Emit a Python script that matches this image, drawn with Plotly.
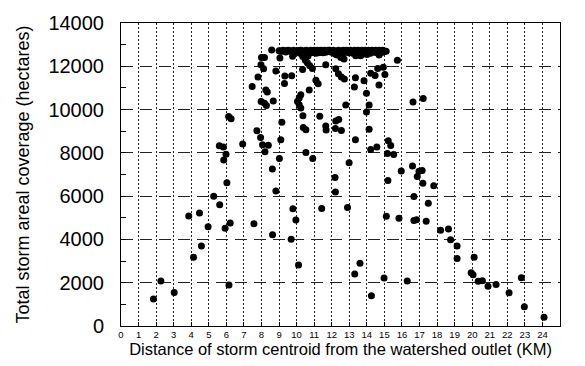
import plotly.graph_objects as go

# Storm centroid distance from watershed outlet (km)
distance_km = [
    # near the outlet
    1.85, 2.27, 3.03, 3.86, 4.47, 4.13, 4.58, 4.96, 5.28, 5.62, 5.93, 6.22, 6.15,
    7.57, 8.63, 8.82, 8.62, 6.03, 5.85, 5.98, 5.60, 5.83, 6.93, 6.13, 6.27, 7.74,
    7.95, 8.06, 8.39, 8.20, 9.10, 9.02,
    # 7.5 - 10 km, upper part
    8.58, 8.00, 8.17, 7.97, 8.12, 8.82, 7.80, 7.47, 8.25, 8.33, 8.67, 7.98, 8.17,
    8.28, 9.05, 9.77, 9.33, 9.72, 9.31, 9.16,
    # 10 - 13 km
    10.05, 10.15, 10.24, 10.15, 10.24, 10.34, 10.72, 11.10, 11.23, 10.36, 11.32,
    10.38, 10.53, 11.66, 11.68, 12.23, 12.40, 12.21, 12.55, 12.80, 10.53, 10.92,
    9.79, 9.96, 9.69, 10.11, 11.43, 12.90, 12.19, 12.21, 12.99,
    # 13 - 16 km
    13.35, 13.29, 13.84, 13.98, 14.13, 13.98, 14.13, 13.35, 14.22, 14.47, 14.62,
    14.94, 15.03, 14.69, 15.74, 15.10, 14.22, 14.57, 15.22, 15.36, 15.17, 15.53,
    15.20, 15.96, 13.31, 13.61, 14.26, 14.98, 15.11, 15.83,
    # beyond 16 km
    16.63, 17.21, 16.60, 16.97, 17.15, 16.87, 17.19, 17.81, 16.68, 17.50, 16.68,
    16.83, 17.38, 18.20, 18.65, 18.77, 19.14, 19.14, 16.30, 19.94, 20.05, 20.11,
    20.34, 20.58, 20.90, 21.36, 22.10, 22.80, 22.97, 24.09,
    # storms just below full coverage
    10.35, 10.50, 10.62, 10.75, 10.90, 11.66, 12.23, 12.52, 12.70, 12.23, 12.38,
    12.55, 12.72, 13.37, 13.65, 14.00, 14.70,
    # storms covering the whole watershed
    9.00, 9.15, 9.30, 9.45, 9.60, 9.75, 9.90, 10.00, 10.10, 10.20, 10.30, 10.35,
    10.45, 10.50, 10.60, 10.65, 10.75, 10.85, 10.95, 11.05, 11.15, 11.25, 11.35,
    11.45, 11.55, 11.65, 11.75, 11.85, 11.95, 12.05, 12.15, 12.20, 12.30, 12.35,
    12.45, 12.55, 12.60, 12.70, 12.80, 12.90, 13.00, 13.10, 13.20, 13.25, 13.35,
    13.45, 13.55, 13.65, 13.75, 13.85, 13.95, 14.05, 14.15, 14.25, 14.35, 14.45,
    14.55, 14.65, 14.75, 14.85, 14.95,
    9.08, 9.22, 9.38, 9.52, 9.68, 9.82, 10.05, 10.25, 10.40, 10.55, 10.70, 10.80,
    10.90, 11.00, 11.10, 11.20, 11.30, 11.40, 11.50, 11.60, 11.70, 11.80, 11.90,
    12.00, 12.10, 12.25, 12.40, 12.50, 12.65, 12.75, 12.85, 12.95, 13.05, 13.15,
    13.30, 13.40, 13.50, 13.60, 13.70, 13.80, 13.90, 14.00, 14.10, 14.20, 14.30,
    14.40, 14.50, 14.60, 14.70, 14.80, 14.90, 15.02,
]

# Total storm areal coverage (hectares)
coverage_ha = [
    1250, 2080, 1550, 5080, 5220, 3180, 3700, 4590, 5990, 5600, 4520, 4760, 1890,
    4730, 4220, 6240, 7250, 6620, 7670, 7930, 8330, 8265, 8415, 9680, 9580, 9020,
    8710, 8380, 8350, 8050, 8600, 7740,
    12750, 12410, 12410, 12070, 11890, 11780, 11510, 11070, 10905, 10810, 10400,
    10370, 10290, 10190, 12385, 12460, 11550, 11560, 11210, 9410,
    10375, 10530, 10680, 10225, 10075, 11855, 10905, 11360, 11190, 9715, 9690,
    9170, 9065, 9245, 9060, 9470, 9540, 9125, 9030, 10210, 8020, 7740,
    5420, 4895, 4010, 2820, 5430, 5480, 6860, 6190, 7540,
    11465, 11045, 11335, 10755, 10210, 9890, 9095, 8600, 11680, 11570, 11900,
    11960, 11620, 11130, 12275, 12700, 8150, 8265, 8565, 8340, 7965, 7920,
    6720, 7160, 2400, 2895, 1400, 2215, 5075, 4980,
    10350, 10515, 7390, 7145, 7190, 6910, 6600, 6485, 5985, 5670, 4880,
    4910, 4835, 4420, 4480, 3985, 3695, 3120, 2080, 2460, 2370, 3180,
    2070, 2095, 1840, 1915, 1540, 2230, 890, 410,
    12450, 12280, 12150, 12030, 11900, 12070, 12560, 12410, 12340, 11890, 11660,
    11510, 11410, 12490, 12490, 12540, 12520,
    12720, 12700, 12730, 12690, 12720, 12680, 12710, 12650, 12730, 12600, 12700,
    12550, 12720, 12640, 12690, 12480, 12700, 12620, 12720, 12660, 12700, 12630,
    12720, 12680, 12710, 12650, 12700, 12730, 12670, 12710, 12600, 12690, 12520,
    12720, 12640, 12700, 12450, 12720, 12660, 12700, 12730, 12680, 12600, 12710,
    12680, 12730, 12650, 12700, 12720, 12660, 12700, 12620, 12710, 12680, 12720,
    12650, 12700, 12600, 12690, 12640, 12700,
    12700, 12740, 12660, 12740, 12690, 12740, 12700, 12740, 12660, 12740, 12610,
    12740, 12680, 12740, 12600, 12740, 12660, 12740, 12620, 12740, 12690, 12740,
    12740, 12650, 12740, 12680, 12740, 12610, 12740, 12680, 12740, 12620, 12740,
    12700, 12740, 12660, 12740, 12600, 12740, 12680, 12740, 12650, 12740, 12600,
    12740, 12670, 12740, 12620, 12740, 12660, 12740, 12700,
]

x_ticks = list(range(0, 25))
y_ticks = [0, 2000, 4000, 6000, 8000, 10000, 12000, 14000]

FONT = "Liberation Sans, Arial, Helvetica, sans-serif"

fig = go.Figure(
    go.Scatter(
        x=distance_km,
        y=coverage_ha,
        mode="markers",
        marker=dict(color="black", size=7, line=dict(width=0)),
        showlegend=False,
    )
)

fig.update_layout(
    width=585,
    height=366,
    margin=dict(l=121, r=25, t=17, b=40),
    paper_bgcolor="white",
    plot_bgcolor="white",
    font=dict(family=FONT, color="black"),
)

fig.update_xaxes(
    range=[0, 25],
    tickvals=x_ticks,
    ticktext=[str(v) for v in x_ticks],
    tickfont=dict(size=9.5),
    ticks="inside",
    ticklen=4,
    tickcolor="black",
    showgrid=True,
    gridcolor="#222",
    gridwidth=1,
    griddash="2px,2px",
    zeroline=False,
    showline=True,
    linecolor="black",
    linewidth=1,
    mirror=True,
    title=dict(
        text="Distance of storm centroid from the watershed outlet (KM)",
        font=dict(size=16.5),
        standoff=2,
    ),
)

fig.update_yaxes(
    range=[0, 14000],
    tickvals=y_ticks,
    ticktext=[str(v) for v in y_ticks],
    tickfont=dict(size=20),
    ticks="inside",
    ticklen=5,
    tickcolor="black",
    ticklabelstandoff=12,
    minor=dict(dtick=1000, ticks="inside", ticklen=5, tickcolor="black", showgrid=False),
    showgrid=True,
    gridcolor="#222",
    gridwidth=1,
    griddash="12px,7px",
    zeroline=False,
    showline=True,
    linecolor="black",
    linewidth=1,
    mirror=True,
    title=dict(
        text="Total storm areal coverage (hectares)",
        font=dict(size=18),
        standoff=14,
    ),
)

fig.write_html("out.html")
